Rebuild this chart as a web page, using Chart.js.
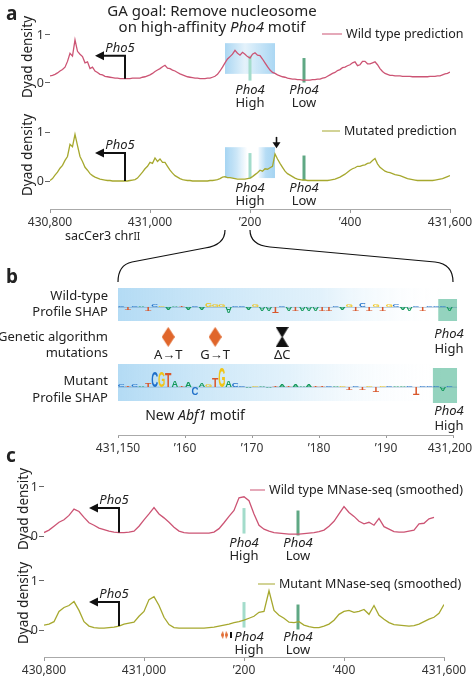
<!DOCTYPE html>
<html lang="en">
<head>
<meta charset="UTF-8">
<title>GA goal: Remove nucleosome on Pho4 motif</title>
<script src="https://cdn.jsdelivr.net/npm/chart.js"></script>
<style>
    body { margin: 0; background: #fff; font-family: 'Noto Sans', 'Open Sans', sans-serif; color: #222; }
    #fig { position: relative; width: 473px; height: 680px; overflow: hidden; }
    #fig canvas { position: absolute; left: 0; top: 0; }
    .lbl { position: absolute; white-space: nowrap; font-size: 13px; line-height: 13px; }
    .c { transform: translate(-50%, -50%); text-align: center; }
    .r { transform: translate(-100%, -50%); text-align: right; }
    .l { transform: translate(0, -50%); }
    .rot { transform: translate(-50%, -50%) rotate(-90deg); font-size: 13.5px; }
    .panel { font-weight: bold; font-size: 19px; line-height: 19px; }
    .sw { display: inline-block; height: 0; border-top: 1.5px solid; vertical-align: middle; margin-right: 4px; }
</style>
</head>
<body>
<div id="fig">
    <canvas id="a1" width="473" height="680"></canvas>
    <canvas id="a2" width="473" height="680"></canvas>
    <canvas id="bWT" width="473" height="680"></canvas>
    <canvas id="bMut" width="473" height="680"></canvas>
    <canvas id="bAxis" width="473" height="680"></canvas>
    <canvas id="c1" width="473" height="680"></canvas>
    <canvas id="c2" width="473" height="680"></canvas>
    <canvas id="links" width="473" height="680"></canvas>
</div>
<script>
    // genome positions: predictions every 5 bp, MNase-seq every 10 bp
    const predPositions = Array.from({ length: 161 }, (_, i) => 430800 + i * 5);
    const mnasePositions = Array.from({ length: 81 }, (_, i) => 430800 + i * 10);

    const wtPrediction = [
        0.15, 0.16, 0.18, 0.21, 0.25, 0.28, 0.33, 0.45, 0.62, 0.56,
        0.9, 0.66, 0.6, 0.55, 0.42, 0.44, 0.3, 0.33, 0.25, 0.22,
        0.18, 0.17, 0.14, 0.13, 0.12, 0.11, 0.1, 0.1, 0.09, 0.09,
        0.09, 0.09, 0.09, 0.1, 0.1, 0.1, 0.1, 0.12, 0.13, 0.15,
        0.17, 0.2, 0.24, 0.27, 0.3, 0.34, 0.37, 0.31, 0.3, 0.27,
        0.25, 0.22, 0.19, 0.17, 0.15, 0.13, 0.12, 0.11, 0.1, 0.1,
        0.09, 0.09, 0.09, 0.1, 0.1, 0.12, 0.14, 0.18, 0.25, 0.33,
        0.42, 0.5, 0.55, 0.6, 0.68, 0.62, 0.58, 0.64, 0.6, 0.55,
        0.52, 0.6, 0.63, 0.58, 0.57, 0.5, 0.42, 0.34, 0.27, 0.22,
        0.2, 0.17, 0.15, 0.13, 0.12, 0.1, 0.09, 0.08, 0.08, 0.07,
        0.07, 0.06, 0.06, 0.06, 0.06, 0.07, 0.07, 0.08, 0.08, 0.1,
        0.11, 0.14, 0.17, 0.2, 0.22, 0.26, 0.28, 0.32, 0.33, 0.36,
        0.38, 0.42, 0.44, 0.36, 0.38, 0.45, 0.45, 0.4, 0.4, 0.42,
        0.44, 0.38, 0.3, 0.24, 0.2, 0.18, 0.16, 0.16, 0.15, 0.15,
        0.15, 0.14, 0.14, 0.14, 0.14, 0.13, 0.13, 0.13, 0.13, 0.13,
        0.13, 0.13, 0.14, 0.14, 0.14, 0.15, 0.15, 0.17, 0.19, 0.2,
        0.23];

    const mutPrediction = [
        0.01, 0.05, 0.12, 0.18, 0.26, 0.32, 0.42, 0.5, 0.75, 0.7,
        0.95, 0.72, 0.5, 0.4, 0.28, 0.22, 0.15, 0.11, 0.08, 0.06,
        0.04, 0.03, 0.02, 0.01, 0.01, 0.0, 0.0, 0.0, 0.0, 0.0,
        0.0, 0.0, 0.01, 0.02, 0.03, 0.06, 0.12, 0.18, 0.25, 0.3,
        0.38, 0.36, 0.47, 0.4, 0.45, 0.38, 0.38, 0.3, 0.22, 0.16,
        0.11, 0.08, 0.05, 0.03, 0.02, 0.01, 0.01, 0.0, 0.0, 0.0,
        0.0, 0.0, 0.0, 0.0, 0.01, 0.01, 0.02, 0.03, 0.05, 0.08,
        0.09, 0.07, 0.07, 0.06, 0.05, 0.04, 0.04, 0.04, 0.04, 0.05,
        0.06, 0.09, 0.13, 0.17, 0.22, 0.2, 0.25, 0.24, 0.27, 0.3,
        0.55, 0.45, 0.36, 0.28, 0.2, 0.15, 0.12, 0.09, 0.06, 0.04,
        0.03, 0.02, 0.02, 0.01, 0.01, 0.01, 0.01, 0.01, 0.01, 0.01,
        0.01, 0.01, 0.02, 0.03, 0.04, 0.06, 0.08, 0.11, 0.14, 0.18,
        0.22, 0.25, 0.27, 0.3, 0.3, 0.32, 0.33, 0.36, 0.37, 0.42,
        0.46, 0.35, 0.28, 0.24, 0.2, 0.18, 0.17, 0.15, 0.13, 0.12,
        0.11, 0.09, 0.07, 0.05, 0.04, 0.03, 0.02, 0.01, 0.01, 0.01,
        0.01, 0.01, 0.01, 0.01, 0.02, 0.03, 0.04, 0.05, 0.07, 0.09,
        0.11];

    const wtMnase = [
        0.07, 0.12, 0.2, 0.28, 0.33, 0.42, 0.55, 0.5, 0.38, 0.27,
        0.22, 0.16, 0.13, 0.1, 0.08, 0.07, 0.07, 0.08, 0.1, 0.2,
        0.33, 0.45, 0.58, 0.45, 0.37, 0.28, 0.18, 0.1, 0.07, 0.06,
        0.06, 0.06, 0.06, 0.06, 0.08, 0.15, 0.27, 0.4, 0.52, 0.78,
        0.8, 0.72, 0.45, 0.22, 0.14, 0.1, 0.07, 0.06, 0.05, 0.04,
        0.04, 0.04, 0.05, 0.06, 0.07, 0.09, 0.12, 0.2, 0.3, 0.45,
        0.6, 0.48, 0.4, 0.3, 0.25, 0.28, 0.22, 0.36, 0.19, 0.14,
        0.09, 0.08, 0.08, 0.1, 0.12, 0.25, 0.26, 0.35, 0.38];

    const mutMnase = [
        0.1, 0.12, 0.17, 0.38, 0.46, 0.5, 0.58, 0.4, 0.17, 0.08,
        0.05, 0.04, 0.04, 0.05, 0.06, 0.08, 0.12, 0.14, 0.16, 0.28,
        0.38, 0.62, 0.68, 0.5, 0.26, 0.11, 0.05, 0.04, 0.04, 0.04,
        0.04, 0.04, 0.04, 0.05, 0.06, 0.08, 0.1, 0.12, 0.15, 0.17,
        0.2, 0.24, 0.28, 0.36, 0.38, 0.8, 0.4, 0.3, 0.24, 0.16,
        0.15, 0.17, 0.1, 0.07, 0.05, 0.05, 0.08, 0.12, 0.2, 0.32,
        0.38, 0.4, 0.36, 0.38, 0.42, 0.32, 0.5, 0.3, 0.22, 0.15,
        0.11, 0.1, 0.09, 0.08, 0.09, 0.12, 0.17, 0.22, 0.26, 0.34, 0.52];

    const trackTicks = [430800, 431000, 431200, 431400, 431600];
    const trackTickLabels = ['430,800', '431,000', '\u2019200', '\u2019400', '431,600'];
    const shapTicks = [431150, 431160, 431170, 431180, 431190, 431200];
    const shapTickLabels = ['431,150', '\u2019160', '\u2019170', '\u2019180', '\u2019190', '431,200  '];

    const pho5Tss = 430950, pho5ArrowTip = 430890, pho5ArrowTop = 0.57;
    const pho4High = 431200, pho4Low = 431308;
    const highBar = [0.05, 0.57], lowBar = [0.01, 0.52];
    const gainedPeak = 431253;

    // Profile SHAP, one letter per bp from 431,150
    const wtSeq = 'CTCATCGAATACAGGGACCAGAATCATAAATTCAGTCTGTGCAACTCCCA';
    const wtShap = [
        0.05, -0.15, 0.04, 0.04, -0.17, 0.1, 0.04, -0.12, 0.04, 0.03,
        -0.12, 0.04, -0.15, 0.18, 0.16, 0.12, -0.35, 0.06, 0.06, -0.15,
        0.12, -0.22, -0.22, -0.3, 0.05, -0.18, -0.2, -0.2, -0.2, -0.2,
        -0.18, -0.18, 0.05, -0.15, 0.15, -0.18, 0.18, -0.18, 0.14, -0.18,
        0.14, 0.16, -0.15, -0.18, 0.04, -0.2, 0.05, 0.05, 0.04, -0.18];
    const mutSeq = 'CTCATCGTATACAGTGACCAGAATATAAATTCAGTCTGTGCAACTCCCAC';
    const mutShap = [
        0.12, 0.04, 0.1, 0.04, 0.15, 0.7, 0.68, 0.6, 0.25, 0.05,
        0.22, -0.35, 0.14, 0.12, 0.38, 0.87, 0.3, 0.14, 0.05, -0.06,
        0.04, 0.07, -0.05, 0.04, 0.08, 0.03, 0.1, 0.04, 0.1, 0.03,
        0.04, 0.05, 0.04, 0.04, -0.12, 0.04, -0.12, 0.05, -0.22, 0.05,
        0.04, 0.05, 0.04, 0.04, -0.33, 0.05, 0.05, 0.04, -0.15, 0.03];
    const wtPho4Site = [431197.8, 431200.6];
    const mutPho4Site = [431197, 431200.6];

    const mutationPositions = [431157, 431164, 431174];
    const mutationLabels = ['A\u2192T', 'G\u2192T', '\u0394C'];
    const mutationKinds = ['snv', 'snv', 'del'];

    const COLORS = { wt: '#cc5474', mut: '#a6a82e', high: '#a3dccb', low: '#5fa884', snv: '#e0662b' };
    const LETTER_COLORS = { A: '#12995a', C: '#1f6fc9', G: '#f0c419', T: '#d9572b' };
    const FONT = "'Noto Sans', 'Open Sans', sans-serif";
    Chart.defaults.font.family = FONT;
    Chart.defaults.color = '#333';

    const fig = document.getElementById('fig');

    function fixAxis(size) {
        return s => {
            if (s.isHorizontal()) s.height = size; else s.width = size;
            s.paddingLeft = s.paddingRight = s.paddingTop = s.paddingBottom = 0;
        };
    }

    function markerImage(w, h, draw) {
        const c = document.createElement('canvas');
        c.width = w; c.height = h;
        draw(c.getContext('2d'), w, h);
        return c;
    }
    const diamondPath = (g, w, h, col) => {
        g.fillStyle = col; g.beginPath();
        g.moveTo(w / 2, 0); g.lineTo(w, h / 2); g.lineTo(w / 2, h); g.lineTo(0, h / 2);
        g.closePath(); g.fill();
    };
    const hourglassPath = (g, w, h) => {
        g.fillStyle = '#111'; g.beginPath();
        g.moveTo(0, 0); g.lineTo(w, 0); g.lineTo(w / 2 + 0.5, h / 2); g.lineTo(w, h);
        g.lineTo(0, h); g.lineTo(w / 2 - 0.5, h / 2); g.closePath(); g.fill();
    };
    const diamond = markerImage(13, 20, (g, w, h) => diamondPath(g, w, h, COLORS.snv));
    const hourglass = markerImage(13, 20, hourglassPath);
    const tinyDiamond = markerImage(3, 8, (g, w, h) => diamondPath(g, w, h, COLORS.snv));
    const tinyBar = markerImage(2, 6, (g, w, h) => { g.fillStyle = '#111'; g.fillRect(0, 0, w, h); });

    function trackNotes(n, positions, values) {
        return {
            id: 'trackNotes',
            beforeDatasetsDraw(chart) {
                const { ctx, scales: { x, y } } = chart;
                ctx.save();
                (n.shade || []).forEach(s => {
                    const x0 = x.getPixelForValue(s.from), x1 = x.getPixelForValue(s.to);
                    const y0 = y.getPixelForValue(s.top), y1 = y.getPixelForValue(s.bottom);
                    const g = ctx.createLinearGradient(x0, 0, x1, 0);
                    s.stops.forEach(([o, a]) => g.addColorStop(o, `rgba(150,205,240,${a})`));
                    ctx.fillStyle = g;
                    ctx.fillRect(x0, y0, x1 - x0, y1 - y0);
                });
                [[pho4High, COLORS.high, highBar], [pho4Low, COLORS.low, lowBar]].forEach(([pos, col, span]) => {
                    const px = x.getPixelForValue(pos);
                    const top = y.getPixelForValue(span[1]), bot = y.getPixelForValue(span[0]);
                    ctx.fillStyle = col;
                    ctx.fillRect(px - 1.5, top, 3, bot - top);
                });
                ctx.restore();
            },
            afterDatasetsDraw(chart) {
                const { ctx, scales: { x, y } } = chart;
                ctx.save();
                ctx.strokeStyle = '#111'; ctx.fillStyle = '#111'; ctx.lineWidth = 2;
                const xs = x.getPixelForValue(pho5Tss), xt = x.getPixelForValue(pho5ArrowTip);
                const yb = y.getPixelForValue(values[positions.indexOf(pho5Tss)]);
                const yt = y.getPixelForValue(pho5ArrowTop);
                ctx.beginPath();
                ctx.moveTo(xs, yb); ctx.lineTo(xs, yt); ctx.lineTo(xt + 6, yt);
                ctx.stroke();
                ctx.beginPath();
                ctx.moveTo(xt, yt); ctx.lineTo(xt + 9, yt - 4.5); ctx.lineTo(xt + 9, yt + 4.5);
                ctx.closePath(); ctx.fill();
                if (n.downArrow) {
                    const ax = x.getPixelForValue(n.downArrow.at);
                    const ya = y.getPixelForValue(n.downArrow.from), yz = y.getPixelForValue(n.downArrow.to);
                    ctx.lineWidth = 1.6;
                    ctx.beginPath(); ctx.moveTo(ax, ya); ctx.lineTo(ax, yz - 5); ctx.stroke();
                    ctx.beginPath();
                    ctx.moveTo(ax, yz); ctx.lineTo(ax - 4, yz - 6); ctx.lineTo(ax + 4, yz - 6);
                    ctx.closePath(); ctx.fill();
                }
                ctx.restore();
            }
        };
    }

    function trackChart(id, positions, values, color, area, range, withAxis, notes) {
        const datasets = [{
            data: values.map((v, i) => ({ x: positions[i], y: v })),
            borderColor: color, borderWidth: 1.3, pointRadius: 0, tension: 0
        }];
        if (notes.marks) datasets.push(notes.marks);
        return new Chart(document.getElementById(id), {
            type: 'line',
            data: { datasets },
            options: {
                responsive: false, animation: false, events: [],
                layout: { padding: { left: area[0] - 20, right: 473 - area[1], top: area[2], bottom: 680 - area[3] - (withAxis ? 24 : 0) } },
                plugins: { legend: { display: false }, tooltip: { enabled: false } },
                scales: {
                    x: {
                        type: 'linear', min: 430800, max: 431600, display: withAxis,
                        afterFit: fixAxis(withAxis ? 24 : 0),
                        afterBuildTicks: s => { s.ticks = trackTicks.map(value => ({ value })); },
                        ticks: {
                            callback: v => trackTickLabels[trackTicks.indexOf(v)],
                            font: { size: 12 }, color: '#333', padding: 2, maxRotation: 0, autoSkip: false
                        },
                        grid: { drawOnChartArea: false, tickLength: 4, color: '#999' },
                        border: { color: '#aaa' }
                    },
                    y: {
                        min: range[0], max: range[1],
                        afterFit: fixAxis(20),
                        afterBuildTicks: s => { s.ticks = [{ value: 0 }, { value: 1 }]; },
                        ticks: { callback: v => String(v), font: { size: 12.5 }, color: '#333', padding: 1 },
                        grid: { drawOnChartArea: false, tickLength: 5, color: '#666' },
                        border: { display: false }
                    }
                }
            },
            plugins: [trackNotes(notes, positions, values)]
        });
    }

    function drawLetter(ctx, ch, left, base, w, h) {
        if (Math.abs(h) < 0.3) return;
        ctx.save();
        ctx.font = 'bold 100px "Liberation Sans", "DejaVu Sans", sans-serif';
        const m = ctx.measureText(ch);
        const gw = m.actualBoundingBoxLeft + m.actualBoundingBoxRight;
        const gh = m.actualBoundingBoxAscent + m.actualBoundingBoxDescent;
        ctx.translate(left, base);
        ctx.scale(w / gw, h / gh);
        ctx.fillStyle = LETTER_COLORS[ch];
        ctx.fillText(ch, m.actualBoundingBoxLeft, -m.actualBoundingBoxDescent);
        ctx.restore();
    }

    function logoPlugin(seq, site, siteInset, fade) {
        return {
            id: 'logo',
            beforeDatasetsDraw(chart) {
                const { ctx, chartArea: a, scales: { x, y } } = chart;
                const right = x.getPixelForValue(site[1]);
                ctx.save();
                const g = ctx.createLinearGradient(a.left, 0, right, 0);
                g.addColorStop(0, 'rgba(150,205,240,0.72)');
                g.addColorStop(fade, 'rgba(190,225,246,0.45)');
                g.addColorStop(0.97, 'rgba(255,255,255,0)');
                ctx.fillStyle = g;
                ctx.fillRect(a.left, a.top, right - a.left, a.bottom - a.top);
                const sx = x.getPixelForValue(site[0]);
                ctx.fillStyle = 'rgba(118,198,172,0.78)';
                ctx.fillRect(sx, a.top + siteInset[0], right - sx, a.bottom - a.top - siteInset[0] + siteInset[1]);
                const y0 = y.getPixelForValue(0);
                ctx.strokeStyle = 'rgba(70,120,170,0.45)'; ctx.lineWidth = 0.8;
                ctx.beginPath(); ctx.moveTo(a.left, y0); ctx.lineTo(right, y0); ctx.stroke();
                ctx.restore();
            },
            afterDatasetsDraw(chart) {
                const { ctx } = chart;
                chart.getDatasetMeta(0).data.forEach((bar, i) => {
                    const p = bar.getProps(['x', 'y', 'base', 'width'], true);
                    drawLetter(ctx, seq[i], p.x - p.width / 2, p.base, p.width, p.base - p.y);
                });
            }
        };
    }

    function logoChart(id, seq, heights, area, range, site, siteInset, fade) {
        return new Chart(document.getElementById(id), {
            type: 'bar',
            data: {
                datasets: [{
                    data: heights.map((h, i) => ({ x: 431150 + i + 0.5, y: h })),
                    backgroundColor: 'rgba(0,0,0,0)', barPercentage: 1, categoryPercentage: 0.94
                }]
            },
            options: {
                responsive: false, animation: false, events: [],
                layout: { padding: { left: area[0], right: 473 - area[1], top: area[2], bottom: 680 - area[3] } },
                plugins: { legend: { display: false }, tooltip: { enabled: false } },
                scales: {
                    x: { type: 'linear', min: 431150, max: 431200, offset: false, display: false },
                    y: { min: range[0], max: range[1], display: false }
                }
            },
            plugins: [logoPlugin(seq, site, siteInset, fade)]
        });
    }

    // panel a
    const a1 = trackChart('a1', predPositions, wtPrediction, COLORS.wt, [50, 450, 20, 100], [-0.3542, 1.3125], false, {
        shade: [{ from: 431150, to: 431250, top: 0.83, bottom: 0.19, stops: [[0, 0.8], [0.4, 0.25], [0.6, 0.45], [1, 0.8]] }]
    });
    const a2 = trackChart('a2', predPositions, mutPrediction, COLORS.mut, [50, 450, 112, 209], [-0.5714, 1.4082], true, {
        shade: [
            { from: 431150, to: 431195, top: 0.69, bottom: 0.06, stops: [[0, 0.85], [0.5, 0.5], [1, 0]] },
            { from: 431217, to: 431250, top: 0.69, bottom: 0.06, stops: [[0, 0.15], [0.45, 0.7], [1, 0.85]] }
        ],
        downArrow: { at: gainedPeak, from: 0.9, to: 0.67 }
    });

    // panel b
    const bWT = logoChart('bWT', wtSeq, wtShap, [118, 453, 288, 321], [-0.7, 1], wtPho4Site, [11, 0], 0.6);
    const bMut = logoChart('bMut', mutSeq, mutShap, [118, 453, 364, 401], [-0.6, 1], mutPho4Site, [4, 2], 0.5);
    const markerRow = 0.9;
    const bAxis = new Chart(document.getElementById('bAxis'), {
        type: 'scatter',
        data: {
            datasets: [{
                data: mutationPositions.map(p => ({ x: p + 0.5, y: markerRow })),
                pointStyle: mutationKinds.map(k => k === 'del' ? hourglass : diamond),
                pointRadius: 5
            }]
        },
        options: {
            responsive: false, animation: false, events: [],
            layout: { padding: { left: 118, right: 20, top: 326, bottom: 680 - 435 - 24 } },
            plugins: { legend: { display: false }, tooltip: { enabled: false } },
            scales: {
                x: {
                    type: 'linear', min: 431150, max: 431200,
                    afterFit: fixAxis(24),
                    afterBuildTicks: s => { s.ticks = shapTicks.map(value => ({ value })); },
                    ticks: {
                        callback: v => shapTickLabels[shapTicks.indexOf(v)],
                        font: { size: 12 }, color: '#333', padding: 3, maxRotation: 0, autoSkip: false
                    },
                    grid: { drawOnChartArea: false, tickLength: 3, color: '#999' },
                    border: { color: '#aaa' }
                },
                y: { min: 0, max: 1, display: false }
            }
        }
    });

    // panel c
    const c1 = trackChart('c1', mnasePositions, wtMnase, COLORS.wt, [44, 444, 470, 550], [-0.2857, 1.3469], false, {});
    const c2 = trackChart('c2', mnasePositions, mutMnase, COLORS.mut, [44, 444, 565, 657], [-0.551, 1.3265], true, {
        marks: {
            data: mutationPositions.map(p => ({ x: p + 0.5, y: -0.1 })),
            showLine: false, pointRadius: 3,
            pointStyle: mutationKinds.map(k => k === 'del' ? tinyBar : tinyDiamond)
        }
    });

    // text
    function put(html, x, y, cls, style) {
        const d = document.createElement('div');
        d.className = 'lbl ' + cls;
        d.innerHTML = html;
        d.style.left = x + 'px';
        d.style.top = y + 'px';
        if (style) Object.assign(d.style, style);
        fig.appendChild(d);
    }

    put('a', 6, 13, 'l panel');
    put('b', 6, 276, 'l panel');
    put('c', 6, 455, 'l panel');
    put('GA goal: Remove nucleosome<br>on high-affinity <i>Pho4</i> motif', 212, 18, 'c', { fontSize: '15px', lineHeight: '15.5px' });

    [[a1, 27], [a2, 27], [c1, 23], [c2, 23]].forEach(([ch, x]) => {
        const y = ch.scales.y;
        put('Dyad density', x, (y.getPixelForValue(0) + y.getPixelForValue(1)) / 2 - 2, 'rot');
    });

    [[a1, 0], [a2, 0], [c1, 0], [c2, 5]].forEach(([ch, dx]) => {
        const x = ch.scales.x, y = ch.scales.y;
        const y0 = y.getPixelForValue(0);
        put('<i>Pho4</i><br>High', x.getPixelForValue(pho4High) + dx, y0 + 13, 'c');
        put('<i>Pho4</i><br>Low', x.getPixelForValue(pho4Low), y0 + 13, 'c');
        put('<i>Pho5</i>', x.getPixelForValue(pho5Tss) - 5, y.getPixelForValue(pho5ArrowTop) - 9, 'c');
    });

    const legend = (text, color, x, y, w) =>
        put(`<span class="sw" style="border-color:${color};width:${w}px"></span>${text}`, x, y, 'l', { fontSize: '12.5px' });
    legend('Wild type prediction', COLORS.wt, 322, 33, 20);
    legend('Mutated prediction', COLORS.mut, 322, 130, 18);
    legend('Wild type MNase-seq (smoothed)', COLORS.wt, 250, 489, 15);
    legend('Mutant MNase-seq (smoothed)', COLORS.mut, 258, 583, 17);

    put('sacCer3 chr<span style="font-size:10px">II</span>', 65, 236, 'l', { fontSize: '12.5px' });

    put('Wild-type<br>Profile SHAP', 108, 302.5, 'r', { lineHeight: '16.5px' });
    put('Genetic algorithm<br>mutations', 108, 343.5, 'r', { lineHeight: '16.5px' });
    put('Mutant<br>Profile SHAP', 108, 388, 'r', { lineHeight: '16.5px' });
    mutationPositions.forEach((p, i) => {
        put(mutationLabels[i], bAxis.scales.x.getPixelForValue(p + 0.5), bAxis.scales.y.getPixelForValue(markerRow) + 17, 'c');
    });
    put('<i>Pho4</i><br>High', 449, 340.5, 'c', { lineHeight: '15px' });
    put('<i>Pho4</i><br>High', 449, 418, 'c', { lineHeight: '15px' });
    put('New <i>Abf1</i> motif', 195, 414, 'c', { fontSize: '14px' });

    // zoom brackets from panel a axis to panel b
    (function drawLinks() {
        const ctx = document.getElementById('links').getContext('2d');
        const ax = a2.scales.x, bx = bAxis.scales.x;
        const top = a2.chartArea.bottom + 21, bottom = bWT.chartArea.top - 6;
        const l0 = ax.getPixelForValue(431150), r0 = ax.getPixelForValue(431200);
        const l1 = bx.getPixelForValue(431150), r1 = bx.getPixelForValue(431200);
        ctx.strokeStyle = '#111';
        ctx.lineWidth = 1.2;
        ctx.beginPath();
        ctx.moveTo(l0, top);
        ctx.quadraticCurveTo(l0, top + 15, l0 - 20, top + 18);
        ctx.lineTo(l1 + 14, top + 32);
        ctx.quadraticCurveTo(l1, top + 35, l1, bottom);
        ctx.moveTo(r0, top);
        ctx.quadraticCurveTo(r0, top + 15, r0 + 20, top + 17);
        ctx.lineTo(r1 - 18, top + 32);
        ctx.quadraticCurveTo(r1, top + 34, r1, bottom);
        ctx.stroke();
    })();
</script>
</body>
</html>
